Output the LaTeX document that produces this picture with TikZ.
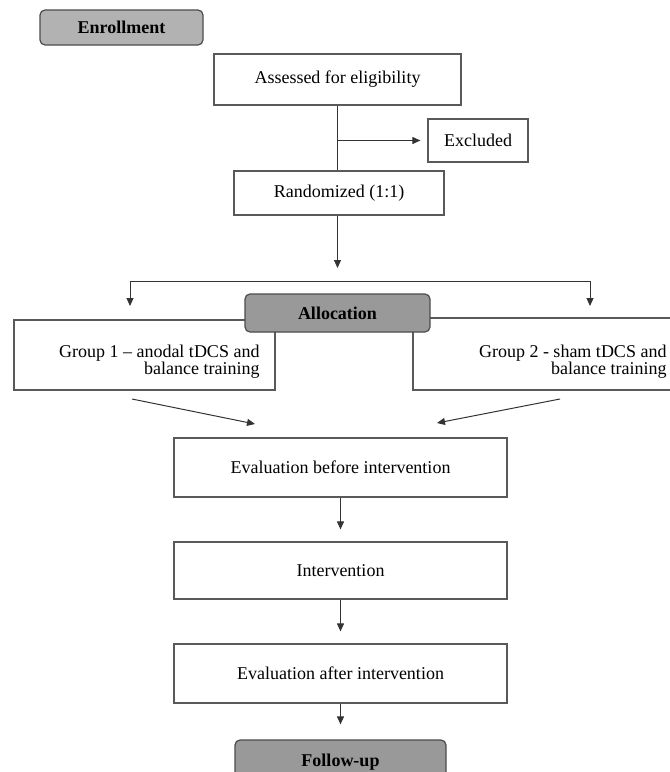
\documentclass[tikz,border=0pt]{standalone}
\usepackage{fontspec}
\setmainfont{Liberation Serif}
\usetikzlibrary{arrows.meta}

\begin{document}
\begin{tikzpicture}[->,>={Triangle[length=8pt,width=7pt]},x=1pt,y=-1pt,line width=1pt,draw=black!80]
      \tikzstyle{box}=[draw=black!65,line width=1.2pt,fill=white,inner sep=0pt,font=\fontsize{18}{17}\selectfont]
      \tikzstyle{phase}=[box,draw=black!70,rounded corners=5pt,font=\fontsize{18}{17}\selectfont\bfseries]
      \tikzstyle{gap}=[shorten >=12pt]

      \useasboundingbox (0,0) rectangle (670,772);
      \clip (0,0) rectangle (670,772);

      \node[phase,fill=black!30,minimum width=163pt,minimum height=35pt] (enroll) at (121.5,27.5) {Enrollment};

      \node[box,minimum width=247pt,minimum height=51pt] (assess) at (337.5,79.5)  {Assessed for eligibility};
      \node[box,minimum width=100pt,minimum height=43pt] (excl)   at (478,140.5)   {Excluded};
      \node[box,minimum width=210pt,minimum height=44pt] (rand)   at (339,193)     {Randomized (1:1)};

      \node[box,minimum width=261pt,minimum height=70pt] (g1) at (144.5,355) {};
      \node[box,minimum width=287pt,minimum height=72pt] (g2) at (556.5,354) {};
      \node[font=\fontsize{18}{17}\selectfont,align=right,inner sep=0pt,anchor=east] (g1txt) at (260,361.5)
            {Group 1 -- anodal tDCS and\\balance training};
      \node[font=\fontsize{18}{17}\selectfont,align=right,inner sep=0pt,anchor=east] (g2txt) at (667,361.5)
            {Group 2 - sham tDCS and\\balance training};
      \node[phase,fill=black!40,minimum width=185pt,minimum height=38pt] (alloc) at (337.5,313) {Allocation};

      \node[box,minimum width=333pt,minimum height=59pt] (eval1)  at (340.5,467.5) {Evaluation before intervention};
      \node[box,minimum width=333pt,minimum height=57pt] (interv) at (340.5,570.5) {Intervention};
      \node[box,minimum width=333pt,minimum height=59pt] (eval2)  at (340.5,673.5) {Evaluation after intervention};
      \node[phase,fill=black!40,minimum width=211pt,minimum height=45pt] (follow) at (340.5,762.5) {Follow-up};

      \coordinate (split) at (337.5,268);
      \coordinate (hl)    at (130,281);
      \coordinate (hr)    at (590,281);
      \coordinate (lft)   at (130,306);
      \coordinate (rgt)   at (590,306);
      \coordinate (in1)   at (132,399);
      \coordinate (out1)  at (255,424);
      \coordinate (in2)   at (560,399);
      \coordinate (out2)  at (437,423);

      \draw[-] (assess.south) -- (assess.south |- rand.north);
      \draw[shorten >=7pt] (assess.south |- excl.west) -- (excl.west);
      \draw (assess.south |- rand.south) -- (split);
      \draw[<->] (lft) -- (hl) -- (hr) -- (rgt);
      \draw (in1) -- (out1);
      \draw (in2) -- (out2);
      \draw[gap] (eval1) -- (interv);
      \draw[gap] (interv) -- (eval2);
      \draw[shorten >=15pt] (eval2) -- (follow);
\end{tikzpicture}
\end{document}
